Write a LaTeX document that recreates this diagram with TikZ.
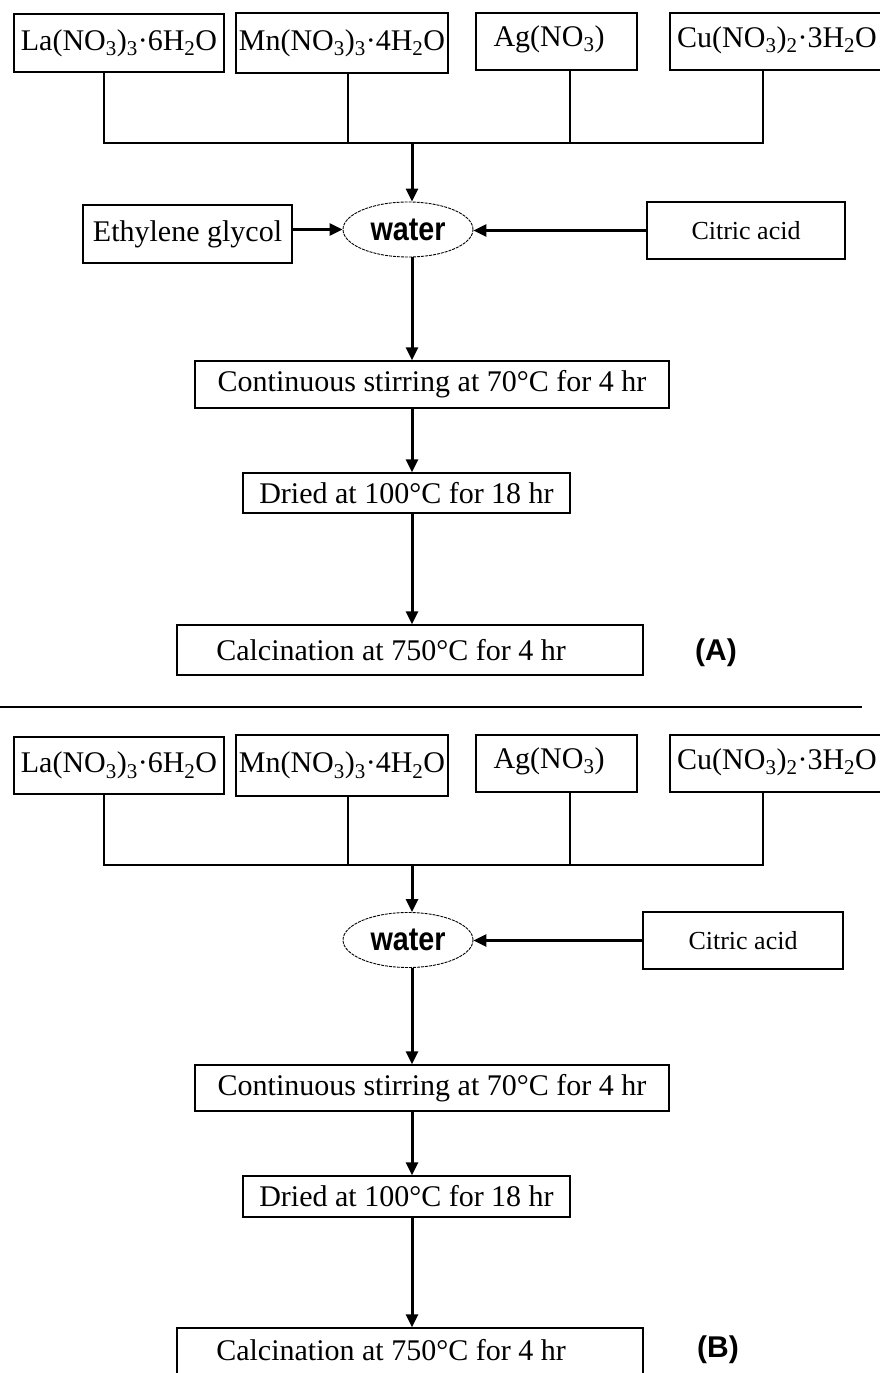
\documentclass[tikz,border=0pt]{standalone}
\usepackage{fontspec}
\setmainfont{Liberation Serif}
\setsansfont{Liberation Sans}
\usetikzlibrary{shapes.geometric,arrows.meta}
\begin{document}
\begin{tikzpicture}[x=1pt,y=-1pt,
  box/.style={draw, line width=1.4pt, inner sep=0pt, font=\fontsize{30}{32}\selectfont},
  conn/.style={line width=1.5pt},
  arr/.style={line width=3pt, -{Triangle[length=13pt,width=12pt]}},
  waternode/.style={ellipse, draw, line width=0.9pt, dash pattern=on 3pt off 1pt,
    minimum width=130pt, minimum height=55pt, inner sep=0pt},
  watertext/.style={font=\sffamily\bfseries\fontsize{33}{33}\selectfont},
  tag/.style={font=\sffamily\bfseries\fontsize{30}{30}\selectfont},
  plain/.style={inner sep=0pt, font=\fontsize{30}{32}\selectfont}]
\useasboundingbox (0,0) rectangle (880,1373);
\clip (0,0) rectangle (880,1373);

% ---------------- Part A ----------------
\node[box, minimum width=210pt, minimum height=58pt] (laA) at (119,43) {La(NO\textsubscript{3})\textsubscript{3}·6H\textsubscript{2}O};
\node[box, minimum width=212pt, minimum height=60pt] (mnA) at (342,43) {Mn(NO\textsubscript{3})\textsubscript{3}·4H\textsubscript{2}O};
\node[box, minimum width=161pt, minimum height=57pt] (agA) at (556.5,41.5) {};
\node[plain] (agAt) at (549,39) {Ag(NO\textsubscript{3})};
\node[box, minimum width=220pt, minimum height=57pt] (cuA) at (780,41.5) {};
\node[plain, anchor=west] (cuAt) at (677,40) {Cu(NO\textsubscript{3})\textsubscript{2}·3H\textsubscript{2}O};

\coordinate (jA) at (412,143);
\coordinate (xla) at (104,0);
\coordinate (xmn) at (348,0);
\coordinate (xag) at (570,0);
\coordinate (xcu) at (763,0);
\draw[conn] (laA.south -| xla) |- (jA -| xcu) -- (cuA.south -| xcu);
\draw[conn] (mnA.south -| xmn) -- (jA -| xmn);
\draw[conn] (agA.south -| xag) -- (jA -| xag);

\node[waternode] (waterA) at (408,229.5) {};
\node[watertext] (waterAt) at (408,229.5) {\scalebox{0.87}[1]{water}};
\node[box, minimum width=209pt, minimum height=58pt] (egA) at (187.5,234) {Ethylene glycol};
\node[box, minimum width=198pt, minimum height=57pt, font=\fontsize{26}{28}\selectfont] (citA) at (746,230.5) {Citric acid};

\node[box, minimum width=474pt, minimum height=47pt] (contA) at (432,384.5) {Continuous stirring at 70°C for 4 hr};
\node[box, minimum width=327pt, minimum height=40pt] (dryA) at (406.5,493) {Dried at 100°C for 18 hr};
\node[box, minimum width=466pt, minimum height=50pt] (calcA) at (410,650) {};
\node[plain] (calcAt) at (391,650) {Calcination at 750°C for 4 hr};
\node[tag] (labA) at (716,653) {(A)};

\draw[arr] (jA) -- (jA |- waterA.north);
\draw[arr] (egA.east |- waterA.west) -- (waterA.west);
\draw[arr] (citA.west) -- (citA.west -| waterA.east);
\draw[arr] (jA |- waterA.south) -- (jA |- contA.north);
\draw[arr] (jA |- contA.south) -- (jA |- dryA.north);
\draw[arr] (jA |- dryA.south) -- (jA |- calcA.north);

% separator
\coordinate (sepL) at (0,707);
\coordinate (sepR) at (862,707);
\draw[line width=1.6pt] (sepL) -- (sepR);

% ---------------- Part B ----------------
\node[box, minimum width=210pt, minimum height=57pt] (laB) at (119,765.5) {La(NO\textsubscript{3})\textsubscript{3}·6H\textsubscript{2}O};
\node[box, minimum width=212pt, minimum height=61pt] (mnB) at (342,765.5) {Mn(NO\textsubscript{3})\textsubscript{3}·4H\textsubscript{2}O};
\node[box, minimum width=161pt, minimum height=57pt] (agB) at (556.5,763.5) {};
\node[plain] (agBt) at (549,761) {Ag(NO\textsubscript{3})};
\node[box, minimum width=220pt, minimum height=57pt] (cuB) at (780,763.5) {};
\node[plain, anchor=west] (cuBt) at (677,762) {Cu(NO\textsubscript{3})\textsubscript{2}·3H\textsubscript{2}O};

\coordinate (jB) at (412,865);
\draw[conn] (laB.south -| xla) |- (jB -| xcu) -- (cuB.south -| xcu);
\draw[conn] (mnB.south -| xmn) -- (jB -| xmn);
\draw[conn] (agB.south -| xag) -- (jB -| xag);

\node[waternode] (waterB) at (408,940) {};
\node[watertext] (waterBt) at (408,940) {\scalebox{0.87}[1]{water}};
\node[box, minimum width=200pt, minimum height=57pt, font=\fontsize{26}{28}\selectfont] (citB) at (743,940.5) {Citric acid};

\node[box, minimum width=474pt, minimum height=46pt] (contB) at (432,1088) {Continuous stirring at 70°C for 4 hr};
\node[box, minimum width=327pt, minimum height=41pt] (dryB) at (406.5,1196.5) {Dried at 100°C for 18 hr};
\node[box, minimum width=466pt, minimum height=50pt] (calcB) at (410,1353) {};
\node[plain] (calcBt) at (391,1350) {Calcination at 750°C for 4 hr};
\node[tag] (labB) at (718,1350) {(B)};

\draw[arr] (jB) -- (jB |- waterB.north);
\draw[arr] (citB.west) -- (citB.west -| waterB.east);
\draw[arr] (jB |- waterB.south) -- (jB |- contB.north);
\draw[arr] (jB |- contB.south) -- (jB |- dryB.north);
\draw[arr] (jB |- dryB.south) -- (jB |- calcB.north);
\end{tikzpicture}
\end{document}
